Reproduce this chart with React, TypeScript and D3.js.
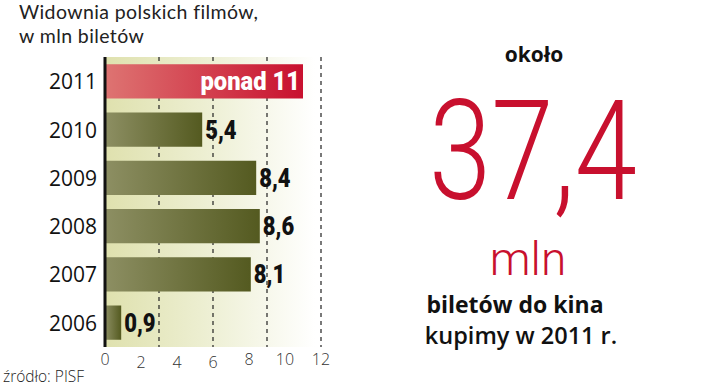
import React, { useEffect, useRef } from 'react';
import * as d3 from 'd3';

// data
const years = ['2011', '2010', '2009', '2008', '2007', '2006'];
const tickets = [11, 5.4, 8.4, 8.6, 8.1, 0.9];
const valueLabels = ['ponad 11', '5,4', '8,4', '8,6', '8,1', '0,9'];
const xTicks = [0, 2, 4, 6, 8, 10, 12];
const gridLines = [3, 6, 9, 12];
const titleLines = ['Widownia polskich filmów,', 'w mln biletów'];

const WIDTH = 720;
const HEIGHT = 388;

const heavy = '"Roboto", "DejaVu Sans", sans-serif';
const light = '"Open Sans", "Noto Sans", sans-serif';
const thin = '"Roboto", "Lato", sans-serif';

const App = () => {
  const ref = useRef<SVGSVGElement>(null);

  useEffect(() => {
    const svg = d3.select(ref.current);
    svg.selectAll('*').remove();

    const left = 105;
    const top = 57;
    const bottom = 347;

    const x = d3.scaleLinear().domain([0, 12]).range([left, 321]);
    const y = d3.scaleBand().domain(years).range([top, bottom]).paddingInner(0.29).paddingOuter(0.15);

    // gradients
    const defs = svg.append('defs');
    const bg = defs.append('linearGradient').attr('id', 'bg').attr('x1', 0).attr('x2', 1);
    bg.append('stop').attr('offset', '0%').attr('stop-color', '#dfe1ae');
    bg.append('stop').attr('offset', '45%').attr('stop-color', '#eceed0');
    bg.append('stop').attr('offset', '100%').attr('stop-color', '#ffffff');

    const green = defs.append('linearGradient').attr('id', 'green').attr('x1', 0).attr('x2', 1);
    green.append('stop').attr('offset', '0%').attr('stop-color', '#8d8f63');
    green.append('stop').attr('offset', '100%').attr('stop-color', '#545a20');

    const red = defs.append('linearGradient').attr('id', 'red').attr('x1', 0).attr('x2', 1);
    red.append('stop').attr('offset', '0%').attr('stop-color', '#de7472');
    red.append('stop').attr('offset', '100%').attr('stop-color', '#c8102e');

    // title, two lines
    svg.selectAll('text.title')
      .data(titleLines)
      .enter()
      .append('text')
      .attr('class', 'title')
      .attr('x', 19)
      .attr('y', (d, i) => 19 + i * 24)
      .attr('font-family', '"Lato", "Open Sans", sans-serif').attr('font-size', 19.5)
      .attr('letter-spacing', 0.4).attr('fill', '#222')
      .text(d => d);

    // background
    svg.append('rect')
      .attr('x', left).attr('y', top)
      .attr('width', 210).attr('height', bottom - top)
      .attr('fill', 'url(#bg)');

    // dashed grid
    svg.selectAll('line.grid')
      .data(gridLines)
      .enter()
      .append('line')
      .attr('class', 'grid')
      .attr('x1', d => x(d)).attr('x2', d => x(d))
      .attr('y1', top).attr('y2', bottom)
      .attr('stroke', '#222').attr('stroke-width', 1.2)
      .attr('stroke-dasharray', '4,4');

    // bars
    svg.selectAll('rect.bar')
      .data(tickets)
      .enter()
      .append('rect')
      .attr('class', 'bar')
      .attr('x', x(0))
      .attr('y', (d, i) => y(years[i]))
      .attr('width', d => x(d) - x(0))
      .attr('height', y.bandwidth())
      .attr('fill', (d, i) => (i === 0 ? 'url(#red)' : 'url(#green)'));

    // value labels (condensed by a horizontal squeeze)
    svg.selectAll('text.value')
      .data(tickets)
      .enter()
      .append('text')
      .attr('class', 'value')
      .attr('transform', (d, i) => {
        const tx = i === 0 ? x(d) - 3 : x(d) + 3;
        const ty = y(years[i]) + y.bandwidth() / 2 + 9;
        return `translate(${tx},${ty}) scale(${i === 0 ? 0.95 : 0.88},1)`;
      })
      .attr('text-anchor', (d, i) => (i === 0 ? 'end' : 'start'))
      .attr('font-family', heavy).attr('font-weight', 900).attr('font-size', 25)
      .attr('fill', (d, i) => (i === 0 ? '#fff' : '#111'))
      .text((d, i) => valueLabels[i]);

    // year labels
    svg.selectAll('text.year')
      .data(years)
      .enter()
      .append('text')
      .attr('class', 'year')
      .attr('x', 97)
      .attr('y', d => y(d) + y.bandwidth() / 2 + 8)
      .attr('text-anchor', 'end')
      .attr('font-family', light).attr('font-size', 21).attr('fill', '#111')
      .text(d => d);

    // axis line
    svg.append('line')
      .attr('x1', left).attr('x2', left)
      .attr('y1', top).attr('y2', bottom)
      .attr('stroke', '#111').attr('stroke-width', 3);

    // tick labels
    svg.selectAll('text.tick')
      .data(xTicks)
      .enter()
      .append('text')
      .attr('class', 'tick')
      .attr('x', d => x(d))
      .attr('y', d => (d >= 2 && d <= 6 ? 368 : 365))
      .attr('text-anchor', 'middle')
      .attr('font-family', light).attr('font-weight', 300).attr('font-size', 16).attr('fill', '#333')
      .text(d => d);

    svg.append('text')
      .attr('x', 3).attr('y', 382)
      .attr('font-family', light).attr('font-weight', 300).attr('font-size', 15.5).attr('fill', '#222')
      .text('źródło: PISF');

    // right-hand note
    svg.append('text')
      .attr('x', 534).attr('y', 62)
      .attr('text-anchor', 'middle')
      .attr('font-family', light).attr('font-weight', 'bold').attr('font-size', 21).attr('fill', '#111')
      .text('około');
    svg.append('text')
      .attr('transform', 'translate(533,199) scale(0.8,1)')
      .attr('text-anchor', 'middle')
      .attr('font-family', thin).attr('font-weight', 300)
      .attr('font-size', 140).attr('fill', '#c8102e')
      .text('37,4');
    svg.append('text')
      .attr('x', 528).attr('y', 275)
      .attr('text-anchor', 'middle')
      .attr('font-family', thin).attr('font-weight', 300)
      .attr('font-size', 46).attr('fill', '#c8102e')
      .text('mln');
    svg.append('text')
      .attr('x', 515).attr('y', 313)
      .attr('text-anchor', 'middle')
      .attr('font-family', light).attr('font-weight', 'bold').attr('font-size', 23).attr('fill', '#111')
      .text('biletów do kina');
    svg.append('text')
      .attr('x', 521).attr('y', 344)
      .attr('text-anchor', 'middle')
      .attr('font-family', light).attr('font-weight', 600).attr('font-size', 23.5).attr('fill', '#111')
      .text('kupimy w 2011 r.');
  }, []);

  return (
    <div style={{ position: 'absolute', left: 0, top: 0 }}>
      <svg ref={ref} width={WIDTH} height={HEIGHT} style={{ display: 'block', background: '#fff' }} />
    </div>
  );
};

export default App;
